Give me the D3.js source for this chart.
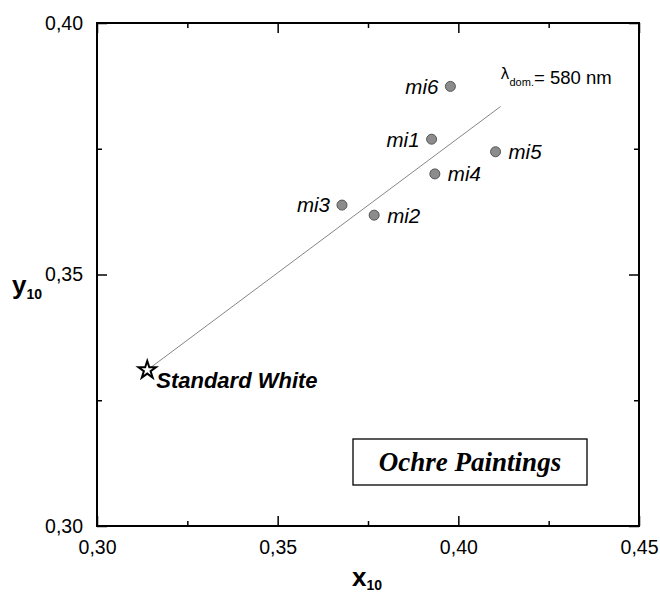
<!DOCTYPE html>
<html>
<head>
<meta charset="utf-8">
<script src="https://cdn.jsdelivr.net/npm/d3@7"></script>
<style>
  body { margin: 0; background: #fff; }
  svg { display: block; font-family: "Liberation Sans", Arial, sans-serif; }
  .frame { fill: none; stroke: #000; stroke-width: 2; }
  .axis path { display: none; }
  .axis line { stroke: #000; stroke-width: 1.5; }
  .axis text { font-size: 19.5px; fill: #000; font-family: "Liberation Sans", Arial, sans-serif; }
  .dom-line { stroke: #666; stroke-width: 0.8; }
  .dot { fill: #8c8c8c; stroke: #555; stroke-width: 1; }
  .label { font-size: 20.5px; font-style: italic; }
</style>
</head>
<body>
<svg id="chart"></svg>
<script>
/* DATA */
var sampleNames = ["mi1", "mi2", "mi3", "mi4", "mi5", "mi6"];
var sampleX = [0.3926, 0.3767, 0.3678, 0.3935, 0.4103, 0.3978];
var sampleY = [0.3769, 0.3618, 0.3638, 0.3700, 0.3744, 0.3874];
var labelSide = ["left", "right", "left", "right", "right", "left"];

var whitePoint = [0.3139, 0.3310];
var dominantEnd = [0.4117, 0.3834];

var xMajorTicks = [0.30, 0.35, 0.40, 0.45];
var xMinorTicks = [0.325, 0.375, 0.425];
var yMajorTicks = [0.30, 0.35, 0.40];
var yMinorTicks = [0.325, 0.375];

/* SETUP */
var width = 660;
var height = 593;
var margin = {top: 23, right: 21, bottom: 67, left: 97};
var plotW = width - margin.left - margin.right;
var plotH = height - margin.top - margin.bottom;

var commaFormat = d => d3.format(".2f")(d).replace(".", ",");

var x = d3.scaleLinear().domain([0.30, 0.45]).range([0, plotW]);
var y = d3.scaleLinear().domain([0.30, 0.40]).range([plotH, 0]);

var svg = d3.select("#chart")
  .attr("width", width)
  .attr("height", height);

var plot = svg.append("g")
  .attr("transform", translate(margin.left, margin.top));

/* AXES (ticks pointing inward on all four sides) */
function addAxis(axisFn, scale, ticks, size, labels, shift) {
  var axis = axisFn(scale)
    .tickValues(ticks)
    .tickSizeInner(-size)
    .tickSizeOuter(0)
    .tickPadding(14)
    .tickFormat(labels ? commaFormat : "");
  plot.append("g")
    .attr("class", "axis")
    .attr("transform", shift)
    .call(axis);
}

addAxis(d3.axisBottom, x, xMajorTicks, 10, true, translate(0, plotH));
addAxis(d3.axisBottom, x, xMinorTicks, 5, false, translate(0, plotH));
addAxis(d3.axisTop, x, xMajorTicks, 10, false, translate(0, 0));
addAxis(d3.axisTop, x, xMinorTicks, 5, false, translate(0, 0));
addAxis(d3.axisLeft, y, yMajorTicks, 10, true, translate(0, 0));
addAxis(d3.axisLeft, y, yMinorTicks, 5, false, translate(0, 0));
addAxis(d3.axisRight, y, yMajorTicks, 10, false, translate(plotW, 0));
addAxis(d3.axisRight, y, yMinorTicks, 5, false, translate(plotW, 0));

plot.append("rect")
  .attr("class", "frame")
  .attr("width", plotW)
  .attr("height", plotH);

/* AXIS TITLES */
var xTitle = svg.append("text")
  .attr("x", 352)
  .attr("y", 586)
  .style("font-weight", "bold");
xTitle.append("tspan").style("font-size", "26px").text("x");
xTitle.append("tspan").style("font-size", "14px").attr("dy", 4).text("10");

var yTitle = svg.append("text")
  .attr("x", 12)
  .attr("y", 294)
  .style("font-weight", "bold");
yTitle.append("tspan").style("font-size", "26px").text("y");
yTitle.append("tspan").style("font-size", "14px").attr("dy", 5).text("10");

/* DOMINANT WAVELENGTH LINE */
plot.append("line")
  .attr("class", "dom-line")
  .attr("x1", x(whitePoint[0]))
  .attr("y1", y(whitePoint[1]))
  .attr("x2", x(dominantEnd[0]))
  .attr("y2", y(dominantEnd[1]));

var lambda = plot.append("text")
  .attr("x", x(dominantEnd[0]))
  .attr("y", y(dominantEnd[1]) - 27);
lambda.append("tspan").style("font-size", "15px").style("font-family", "DejaVu Sans").text("λ");
lambda.append("tspan").style("font-size", "11px").attr("dy", 7).text("dom.");
lambda.append("tspan").style("font-size", "18.5px").attr("dy", -2).text("= 580 nm");

/* SAMPLES */
var samples = sampleNames.map((name, i) => ({
  name: name,
  x: sampleX[i],
  y: sampleY[i],
  side: labelSide[i]
}));

plot.selectAll("circle.dot")
  .data(samples)
  .enter()
  .append("circle")
    .attr("class", "dot")
    .attr("r", 5)
    .attr("cx", d => x(d.x))
    .attr("cy", d => y(d.y));

plot.selectAll("text.label")
  .data(samples)
  .enter()
  .append("text")
    .attr("class", "label")
    .attr("x", d => x(d.x) + (d.side === "left" ? -12 : 13))
    .attr("y", d => y(d.y))
    .attr("dy", "0.36em")
    .attr("text-anchor", d => d.side === "left" ? "end" : "start")
    .text(d => d.name);

/* STANDARD WHITE */
plot.append("path")
  .attr("d", d3.symbol(d3.symbolStar, 95)())
  .attr("transform", translate(x(whitePoint[0]), y(whitePoint[1])))
  .style("fill", "#fff")
  .style("stroke", "#000")
  .style("stroke-width", 2);

plot.append("text")
  .attr("x", x(whitePoint[0]) + 9)
  .attr("y", y(whitePoint[1]) + 18)
  .style("font-size", "22px")
  .style("font-weight", "bold")
  .style("font-style", "italic")
  .text("Standard White");

/* TITLE BOX */
var boxX = 353 - margin.left;
var boxY = 439 - margin.top;
plot.append("rect")
  .attr("x", boxX)
  .attr("y", boxY)
  .attr("width", 234)
  .attr("height", 46)
  .style("fill", "#fff")
  .style("stroke", "#000")
  .style("stroke-width", 1.3);

plot.append("text")
  .attr("x", boxX + 117)
  .attr("y", boxY + 32)
  .attr("text-anchor", "middle")
  .style("font-family", "'Liberation Serif', 'Times New Roman', serif")
  .style("font-size", "27px")
  .style("font-weight", "bold")
  .style("font-style", "italic")
  .text("Ochre Paintings");

/* HELPER FUNCTION */
function translate(x, y) {
  return 'translate(' + String(x) + ',' + String(y) + ')';
}
</script>
</body>
</html>
